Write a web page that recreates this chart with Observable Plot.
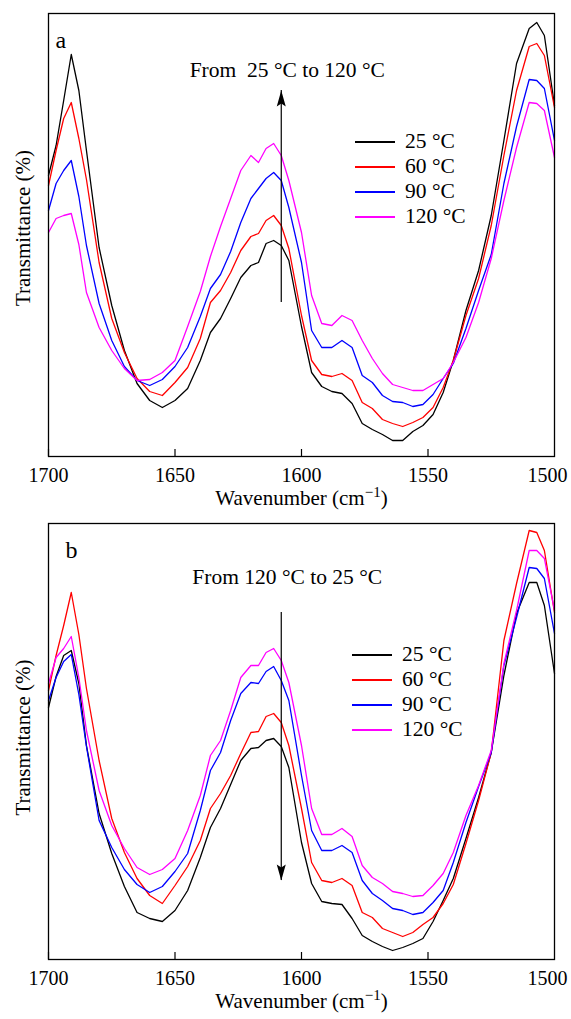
<!DOCTYPE html>
<html><head><meta charset="utf-8">
<script src="https://cdn.jsdelivr.net/npm/d3@7"></script>
<script src="https://cdn.jsdelivr.net/npm/@observablehq/plot@0.6"></script>
<style>
body{margin:0;background:#fff;font-family:"Liberation Serif","Times New Roman",serif;}
.panel{position:relative;width:571px;}
.panel svg{display:block}
.legend{position:absolute;font-size:21.5px;color:#000}
.legend .row{display:flex;align-items:center;height:25px;white-space:nowrap}
.legend .sw{width:40px;height:0;border-top:2px solid;margin-right:10px}
</style></head><body><div id="chart"></div>
<script>
// wavenumber grid (cm^-1)
const wavenumber = [1700,1697,1694,1691,1688,1685,1680,1675,1670,1665,
  1660,1655,1650,1645,1640,1636,1632,1628,1624,1620,
  1617,1614,1611,1608,1605,1600,1596,1592,1588,1584,
  1580,1576,1572,1568,1564,1560,1556,1552,1548,1544,
  1540,1535,1530,1525,1520,1515,1510,1507,1504,1500];
const seriesNames = ["25 °C","60 °C","90 °C","120 °C"];
const seriesColors = ["#000000","#ff0000","#0000ff","#ff00ff"];
const xTicks = [1700,1650,1600,1550,1500];

// Panel a: heating, relative transmittance (a.u.)
const a25 = [281,311,356,402,366,306,209,151,106,73,
  56,49,56,68,96,124,138,158,179,191,
  194,213,216,211,196,130,84,70,65,63,
  53,33,27,22,16,16,25,31,42,64,
  96,146,186,241,316,393,428,434,421,351];
const a60 = [271,306,338,354,318,277,194,138,104,78,
  65,61,74,89,118,154,166,184,206,220,
  223,236,241,231,208,141,96,82,80,83,
  76,54,48,37,33,30,34,39,49,69,
  96,141,178,231,301,366,410,413,401,349];
const a90 = [246,273,286,296,260,211,153,116,90,76,
  71,77,90,109,140,168,182,205,234,258,
  268,278,284,276,249,194,126,109,109,116,
  109,81,74,61,55,54,50,52,62,78,
  93,128,166,202,273,330,377,376,368,316];
const a120 = [224,238,241,243,212,164,129,106,88,76,
  77,84,96,130,165,200,230,258,286,301,
  294,308,313,301,276,224,161,133,131,141,
  136,116,98,83,72,69,66,66,72,78,
  94,119,154,198,256,309,354,353,346,299];

// Panel b: cooling, relative transmittance (a.u.)
const b25 = [252,283,304,309,276,214,146,106,73,47,
  41,38,49,69,102,132,151,175,199,211,
  212,219,221,213,192,117,76,58,56,55,
  41,24,18,13,9,12,16,21,38,59,
  81,121,162,207,284,346,377,377,354,286];
const b60 = [269,304,334,367,325,271,199,141,107,81,
  64,56,74,93,119,151,166,184,206,227,
  228,243,246,237,214,151,97,79,77,81,
  74,47,42,31,27,23,27,35,42,56,
  75,116,159,207,319,376,429,427,409,347];
const b90 = [259,282,298,305,265,213,139,112,90,75,
  67,73,88,106,149,189,207,239,266,277,
  276,288,293,279,259,184,129,109,109,114,
  107,79,66,59,51,49,45,47,57,69,
  97,137,173,207,294,342,392,391,381,326];
const b120 = [276,302,311,323,282,229,169,134,111,92,
  85,90,101,129,164,204,219,249,282,294,
  294,307,311,299,277,214,151,125,125,131,
  123,94,82,76,68,66,63,64,74,86,
  107,144,174,209,296,349,409,409,401,349];

// annotations: arrow at wavenumber, from/to (a.u.), label
const arrowA = [{x:1608, from:154, to:366, labelY:386, label:"From  25 °C to 120 °C"}];
const arrowB = [{x:1608, from:347, to:79, labelY:382, label:"From 120 °C to 25 °C"}];

const arrowHead = {draw(ctx){ctx.moveTo(0,0);ctx.lineTo(4.5,16);ctx.lineTo(0,13);ctx.lineTo(-4.5,16);ctx.closePath();}};

function rows(arrs){
  const out=[];
  arrs.forEach((arr,si)=>arr.forEach((v,i)=>out.push({w:wavenumber[i],t:v,series:seriesNames[si]})));
  return out;
}

function panel({data, yMax, height, marginBottom, letter, letterDx, arrow, down, legendTop, legendLeft, yLabelDy}){
  const div=document.createElement("div"); div.className="panel";
  const xLabel="Wavenumber (cm−1)";
  const innerTicks=xTicks.filter(t=>t!==1500);
  const edgeTicks=xTicks.filter(t=>t===1500);
  const svg=Plot.plot({
    width:571, height, marginTop:13, marginLeft:48, marginRight:17, marginBottom,
    style:{fontFamily:"'Liberation Serif','Times New Roman',serif", fontSize:"20px", background:"white", color:"black"},
    x:{domain:[1700,1500]},
    y:{domain:[0,yMax], axis:null},
    color:{domain:seriesNames, range:seriesColors},
    marks:[
      Plot.line(data,{x:"w",y:"t",z:"series",stroke:"series",strokeWidth:1.3}),
      Plot.frame({stroke:"black",strokeWidth:1.3}),
      Plot.axisX({ticks:innerTicks,tickSize:-7,tickPadding:18,tickFormat:d=>String(d),label:null,fontSize:20,strokeWidth:1.2}),
      Plot.axisX({ticks:edgeTicks,tickSize:0,tickPadding:11,dx:-7,tickFormat:d=>String(d),label:null,fontSize:20}),
      Plot.text(["Transmittance (%)"],{frameAnchor:"left",textAnchor:"middle",rotate:-90,dx:-25,dy:yLabelDy,fontSize:21,fill:"black"}),
      Plot.text([xLabel],{frameAnchor:"bottom",dy:48,fontSize:21,fill:"black"}),
      Plot.ruleX(arrow,{x:"x",y1:"from",y2:"to",stroke:"black",strokeWidth:1.2}),
      Plot.dot(arrow,{x:"x",y:"to",symbol:arrowHead,fill:"black",stroke:null,rotate:down?180:0}),
      Plot.text(arrow,{x:"x",y:"labelY",text:"label",dx:6,fontSize:21.5,fill:"black"}),
      Plot.text([letter],{frameAnchor:"top-left",dx:letterDx,dy:17,fontSize:24,textAnchor:"start",fill:"black"})
    ]
  });
  svg.querySelectorAll("text").forEach(t=>{
    if(t.textContent===xLabel){
      t.textContent="";
      const ns="http://www.w3.org/2000/svg";
      const a=document.createElementNS(ns,"tspan"); a.textContent="Wavenumber (cm";
      const b=document.createElementNS(ns,"tspan"); b.textContent="−1"; b.setAttribute("dy","-8"); b.setAttribute("font-size","15");
      const c=document.createElementNS(ns,"tspan"); c.textContent=")"; c.setAttribute("dy","8");
      t.append(a,b,c);
    }
    if(t.textContent.startsWith("From")) t.style.whiteSpace="pre";
  });
  div.appendChild(svg);
  const lg=document.createElement("div"); lg.className="legend";
  lg.style.top=legendTop+"px"; lg.style.left=legendLeft+"px";
  seriesNames.forEach((n,i)=>{
    const r=document.createElement("div"); r.className="row";
    const s=document.createElement("span"); s.className="sw"; s.style.borderTopColor=seriesColors[i];
    const tx=document.createElement("span"); tx.textContent=n;
    r.append(s,tx); lg.appendChild(r);
  });
  div.appendChild(lg);
  return div;
}

const root=document.getElementById("chart");
root.appendChild(panel({data:rows([a25,a60,a90,a120]), yMax:443, height:510, marginBottom:54, letter:"a", letterDx:7, arrow:arrowA, down:false, legendTop:129, legendLeft:355, yLabelDy:-7}));
root.appendChild(panel({data:rows([b25,b60,b90,b120]), yMax:436, height:509, marginBottom:60, letter:"b", letterDx:17, arrow:arrowB, down:true, legendTop:132, legendLeft:352, yLabelDy:-4}));
</script></body></html>
